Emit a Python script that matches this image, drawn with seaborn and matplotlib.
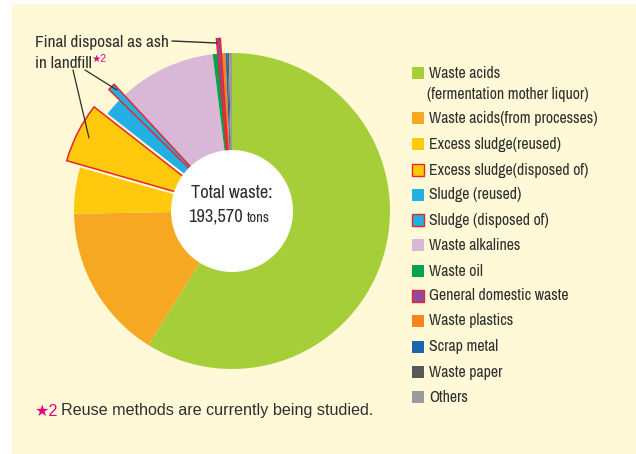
import matplotlib
matplotlib.use("Agg")
import matplotlib.pyplot as plt
import seaborn as sns
from matplotlib import font_manager as fm
from matplotlib.patches import Rectangle, Circle
from matplotlib.textpath import TextPath
from matplotlib.font_manager import FontProperties

sns.set_style("white")
_avail = {f.name for f in fm.fontManager.ttflist}
NARROW = next((n for n in ["Archivo Narrow", "Roboto Condensed", "PT Sans Narrow",
                           "Liberation Sans Narrow"] if n in _avail), "Liberation Sans")
plt.rcParams['font.family'] = [NARROW, 'DejaVu Sans']
PLAIN = ["Liberation Sans", "DejaVu Sans"]

# ---- data ----
categories = [
    "Waste acids\n(fermentation mother liquor)",
    "Waste acids(from processes)",
    "Excess sludge(reused)",
    "Excess sludge(disposed of)",
    "Sludge (reused)",
    "Sludge (disposed of)",
    "Waste alkalines",
    "Waste oil",
    "General domestic waste",
    "Waste plastics",
    "Scrap metal",
    "Waste paper",
    "Others",
]
shares = [58.7, 15.8, 4.7, 6.1, 1.8, 0.75, 9.9, 0.5, 0.4, 0.4, 0.2, 0.15, 0.3]
landfill = [False, False, False, True, False, True, False, False, True, False, False, False, False]
colors = ["#A6CE39", "#F7A823", "#FFC90E", "#FFC90E", "#22B0E3", "#22B0E3",
          "#D8B7D7", "#00A550", "#8F4C9F", "#F6851F", "#1A64B0", "#58595B", "#999B9E"]
total_label = "Total waste:"
total_value = "193,570"
total_unit = "tons"
footnote = "Reuse methods are currently being studied."

TXT = "#2E2E2E"
MAG = "#E4007F"
BG = "#FFF9D7"


def width_px(s, size_pt, family=NARROW):
    tp = TextPath((0, 0), s, size=size_pt * 100 / 72, prop=FontProperties(family=family))
    return tp.get_extents().width


def fit(s, target_px, family=NARROW, lo=9, hi=14.5):
    return min(max(10 * target_px / width_px(s, 10, family), lo), hi)


FS_LEG = fit("General domestic waste", 138)
FS_ANN = fit("Final disposal as ash", 131)
FS_CEN = fit("Total waste:", 80)
FS_FOOT = fit(footnote, 310, PLAIN)

W, H = 636, 454
fig = plt.figure(figsize=(W / 100, H / 100), dpi=100, facecolor="white")
ax = fig.add_axes([0, 0, 1, 1])


def Y(py):
    return H - py


ax.add_patch(Rectangle((12, 0), W - 12, H - 4, facecolor=BG, edgecolor="none", zorder=0))

cx, cy, R = 232, Y(211), 158
explode = [15 if f else 0 for f in landfill]
wedges, _ = ax.pie(shares, colors=colors, startangle=90, counterclock=False,
                   center=(cx, cy), radius=R, explode=explode,
                   wedgeprops=dict(linewidth=0), frame=True)
for w, f in zip(wedges, landfill):
    w.set_zorder(2)
    if f:
        w.set_edgecolor("#E8262C")
        w.set_linewidth(1.1)
        w.set_zorder(3)
ax.set_xlim(0, W)
ax.set_ylim(0, H)
ax.axis("off")

ax.add_patch(Circle((cx, cy), 61, facecolor="white", edgecolor="none", zorder=5))
ax.text(cx, Y(193), total_label, ha="center", va="center", fontsize=FS_CEN, color=TXT, zorder=6)
ax.text(243, Y(217), total_value, ha="right", va="center", fontsize=FS_CEN, color=TXT, zorder=6)
ax.text(247, Y(218), total_unit, ha="left", va="center", fontsize=FS_CEN * 0.8, color=TXT, zorder=6)

# annotation
ax.text(35, Y(42), "Final disposal as ash", ha="left", va="center", fontsize=FS_ANN, color=TXT, zorder=6)
ax.text(35, Y(64), "in landfill", ha="left", va="center", fontsize=FS_ANN, color=TXT, zorder=6)
xs = 35 + width_px("in landfill", FS_ANN) + 2
ax.text(xs, Y(59), "★2", ha="left", va="center", fontsize=7.5, color=MAG, zorder=6, family=PLAIN)
ax.plot([172, 217], [Y(41), Y(43)], color=TXT, lw=1, zorder=7)
ax.plot([73, 89], [Y(70), Y(138)], color=TXT, lw=0.9, zorder=7)
ax.plot([85, 117], [Y(70), Y(90)], color=TXT, lw=0.9, zorder=7)

# legend
rows = [73, 118, 144, 170, 195, 220, 245, 271, 296, 321, 347, 372, 397]
for lab, col, f, ry in zip(categories, colors, landfill, rows):
    ax.add_patch(Rectangle((412, Y(ry) - 6), 12, 12, facecolor=col,
                           edgecolor="#E8262C" if f else "none", linewidth=1.0 if f else 0, zorder=6))
    lines = lab.split("\n")
    ax.text(429, Y(ry), lines[0], ha="left", va="center", fontsize=FS_LEG, color=TXT, zorder=6)
    if len(lines) > 1:
        ax.text(427, Y(ry + 21), lines[1], ha="left", va="center", fontsize=FS_LEG, color=TXT, zorder=6)

# footnote
ax.text(35, Y(411), "★2", ha="left", va="center", fontsize=FS_FOOT, color=MAG, family=PLAIN, zorder=6)
ax.text(61, Y(411), footnote, ha="left", va="center",
        fontsize=FS_FOOT, color=TXT, family=PLAIN, zorder=6)

fig.savefig("out.png", dpi=100, facecolor="white")
